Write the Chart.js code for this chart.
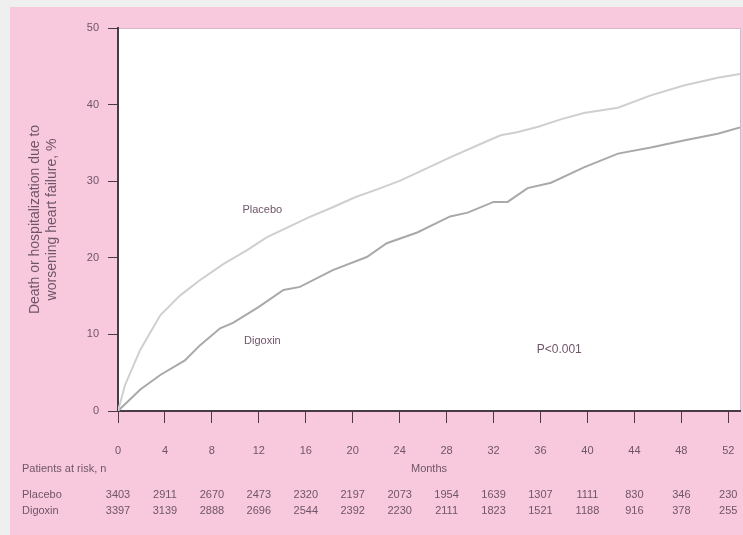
<!DOCTYPE html>
<html>
<head>
<meta charset="utf-8">
<script src="https://cdn.jsdelivr.net/npm/chart.js@4/dist/chart.umd.min.js"></script>
<style>
  html, body { margin: 0; padding: 0; background: #efefef; }
  #wrap { width: 743px; height: 535px; position: relative; }
</style>
</head>
<body>
<div id="wrap"><canvas id="c" width="743" height="535"></canvas></div>
<script>
// Cumulative incidence of death or hospitalization due to worsening heart failure
const placeboMonths = [0, 0.6, 1.9, 3.6, 5.3, 7, 9, 11, 12.7, 14.5, 16.3, 18.3, 20.2, 22.2, 24.1, 26.2, 28.3, 30.5, 32.6, 34, 35.8, 37.8, 39.7, 42.6, 45.4, 48.2, 51.1, 53];
const placeboRate   = [0, 3.4, 8.0, 12.5, 15.1, 17.1, 19.2, 21.0, 22.7, 24.0, 25.3, 26.6, 27.9, 29.0, 30.1, 31.6, 33.1, 34.6, 36.0, 36.4, 37.1, 38.1, 38.9, 39.6, 41.2, 42.5, 43.5, 44.0];

const digoxinMonths = [0, 1.9, 3.6, 5.7, 7, 8.7, 9.8, 12, 14.1, 15.5, 18.3, 21.2, 22.9, 25.5, 28.3, 29.8, 32, 33.2, 34.9, 36.9, 39.7, 42.6, 45.4, 48.2, 51.1, 53];
const digoxinRate   = [0, 2.8, 4.7, 6.6, 8.6, 10.8, 11.5, 13.6, 15.8, 16.2, 18.4, 20.1, 21.9, 23.3, 25.4, 25.9, 27.3, 27.3, 29.1, 29.8, 31.8, 33.6, 34.4, 35.3, 36.2, 37.0];

// Months shown on the axis and patients at risk at each of them
const monthTicks = [0, 4, 8, 12, 16, 20, 24, 28, 32, 36, 40, 44, 48, 52];
const placeboAtRisk = [3403, 2911, 2670, 2473, 2320, 2197, 2073, 1954, 1639, 1307, 1111, 830, 346, 230];
const digoxinAtRisk = [3397, 3139, 2888, 2696, 2544, 2392, 2230, 2111, 1823, 1521, 1188, 916, 378, 255];

const percentTicks = [0, 10, 20, 30, 40, 50];

const INK = '#6f5568';
const AXIS = '#4a3a46';
const FONT = 'Liberation Sans, Arial, sans-serif';

const toPoints = (xs, ys) => xs.map((x, i) => ({ x: x, y: ys[i] }));

const panelPlugin = {
  id: 'panel',
  beforeDraw(chart) {
    const { ctx, chartArea: a } = chart;
    ctx.save();
    ctx.fillStyle = '#f8c9dd';
    ctx.fillRect(10, 7, chart.width - 10, chart.height - 7);
    ctx.fillStyle = '#ffffff';
    ctx.fillRect(a.left, a.top, a.right - a.left, a.bottom - a.top);
    ctx.strokeStyle = '#d9b6c8';
    ctx.lineWidth = 1;
    ctx.beginPath();
    ctx.moveTo(a.left, a.top + 0.5);
    ctx.lineTo(a.right + 0.5, a.top + 0.5);
    ctx.lineTo(a.right + 0.5, a.bottom);
    ctx.stroke();
    ctx.restore();
  }
};

const notesPlugin = {
  id: 'notes',
  afterDraw(chart) {
    const { ctx } = chart;
    const xs = chart.scales.x, ys = chart.scales.y;
    ctx.save();
    ctx.fillStyle = INK;
    ctx.textBaseline = 'middle';
    ctx.textAlign = 'center';
    // Curve labels and test result inside the plot
    ctx.font = '11px ' + FONT;
    ctx.fillText('Placebo', xs.getPixelForValue(12.3), ys.getPixelForValue(26.2));
    ctx.fillText('Digoxin', xs.getPixelForValue(12.3), ys.getPixelForValue(9.1));
    ctx.font = '12px ' + FONT;
    ctx.fillText('P<0.001', xs.getPixelForValue(37.6), ys.getPixelForValue(8.0));
    // Axis caption and at-risk table
    ctx.font = '11px ' + FONT;
    ctx.fillText('Months', (chart.chartArea.left + chart.chartArea.right) / 2, 469);
    ctx.textAlign = 'left';
    ctx.fillText('Patients at risk, n', 22, 469);
    ctx.fillText('Placebo', 22, 495);
    ctx.fillText('Digoxin', 22, 511);
    ctx.textAlign = 'center';
    monthTicks.forEach((m, i) => {
      const px = xs.getPixelForValue(m);
      ctx.fillText(String(placeboAtRisk[i]), px, 495);
      ctx.fillText(String(digoxinAtRisk[i]), px, 511);
    });
    ctx.restore();
  }
};

new Chart(document.getElementById('c'), {
  type: 'line',
  data: {
    datasets: [
      {
        label: 'Placebo',
        data: toPoints(placeboMonths, placeboRate),
        borderColor: '#cfcfcf',
        borderWidth: 2,
        pointRadius: 0,
        tension: 0
      },
      {
        label: 'Digoxin',
        data: toPoints(digoxinMonths, digoxinRate),
        borderColor: '#a9a9a9',
        borderWidth: 2,
        pointRadius: 0,
        tension: 0
      }
    ]
  },
  options: {
    responsive: false,
    animation: false,
    events: [],
    layout: { padding: { left: 0, top: 28, right: 3, bottom: 0 } },
    plugins: { legend: { display: false }, tooltip: { enabled: false } },
    scales: {
      x: {
        type: 'linear',
        min: 0,
        max: 53,
        afterBuildTicks(scale) { scale.ticks = monthTicks.map(v => ({ value: v })); },
        afterFit(scale) { scale.height = 124; scale.paddingLeft = 0; scale.paddingRight = 0; },
        border: { display: true, color: AXIS, width: 2 },
        grid: { display: true, drawOnChartArea: false, drawTicks: true, tickLength: 12, color: AXIS, lineWidth: 1 },
        ticks: { color: INK, font: { family: FONT, size: 11 }, padding: 21, maxRotation: 0, autoSkip: false }
      },
      y: {
        type: 'linear',
        min: 0,
        max: 50,
        afterBuildTicks(scale) { scale.ticks = percentTicks.map(v => ({ value: v })); },
        afterFit(scale) { scale.width = 118; scale.paddingTop = 0; scale.paddingBottom = 0; },
        border: { display: true, color: AXIS, width: 2 },
        grid: { display: true, drawOnChartArea: false, drawTicks: true, tickLength: 10, color: AXIS, lineWidth: 1 },
        ticks: { color: INK, font: { family: FONT, size: 11 }, padding: 9 },
        title: {
          display: true,
          text: ['Death or hospitalization due to', 'worsening heart failure, %'],
          color: INK,
          font: { family: FONT, size: 14, lineHeight: 1.15 },
          padding: { top: 27.5, bottom: 0 }
        }
      }
    }
  },
  plugins: [panelPlugin, notesPlugin]
});
</script>
</body>
</html>
